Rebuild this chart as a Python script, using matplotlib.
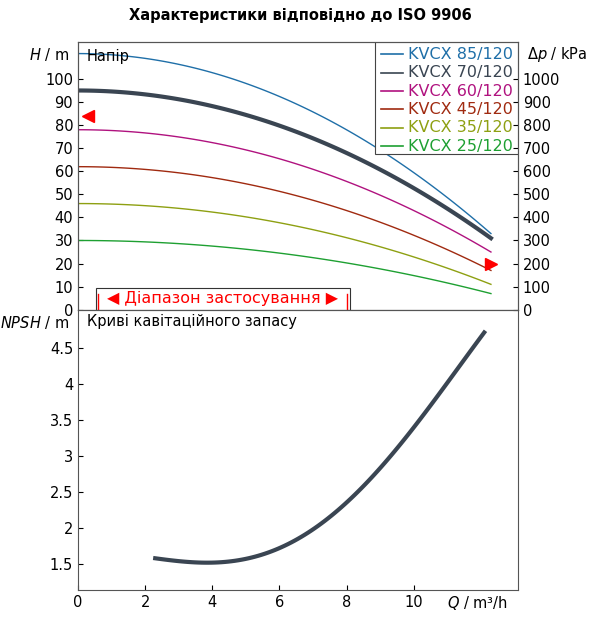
import matplotlib
matplotlib.use("Agg")
import matplotlib.pyplot as plt
import numpy as np

Q = [0, 2, 4, 6, 8, 10, 12.3]
series = {
    "KVCX 85/120": [111, 108.9, 102.7, 92.4, 78.0, 59.4, 33],
    "KVCX 70/120": [95, 93.3, 88.2, 79.8, 67.9, 52.7, 31],
    "KVCX 60/120": [78, 76.6, 72.4, 65.4, 55.6, 43.0, 25],
    "KVCX 45/120": [62, 60.8, 57.2, 51.3, 43.0, 32.3, 17],
    "KVCX 35/120": [46, 45.1, 42.3, 37.7, 31.2, 22.9, 11],
    "KVCX 25/120": [30, 29.4, 27.6, 24.5, 20.3, 14.8, 7],
}
colors = ["#1f6fa8", "#3a4552", "#b0127f", "#a02a10", "#8ea012", "#1ea032"]
widths = [1.0, 3.0, 1.0, 1.0, 1.0, 1.0]
npsh_q = [2.3, 3, 4, 5, 6, 7, 8, 9, 10, 11, 12.1]
npsh = [1.58, 1.54, 1.52, 1.58, 1.72, 1.97, 2.35, 2.85, 3.4, 4.0, 4.72]

fig = plt.figure(figsize=(6, 6.27), dpi=100)
ax = fig.add_axes([0.13, 0.506, 0.733, 0.427])
ax2 = fig.add_axes([0.13, 0.059, 0.733, 0.447])
fig.text(0.5, 0.968, "Характеристики відповідно до ISO 9906", ha="center", fontsize=10.5, fontweight="bold")

for (name, h), c, w in zip(series.items(), colors, widths):
    p = np.polyfit(Q, h, 2)
    qq = np.linspace(0, Q[-1], 100)
    ax.plot(qq, np.polyval(p, qq), color=c, lw=w)
ax.set_xlim(0, 13.1)
ax.set_ylim(0, 116)
ax.set_yticks(range(0, 101, 10))
ax.set_xticks([])
ax.tick_params(labelsize=10.5, direction="in")
axr = ax.twinx()
axr.set_ylim(0, 1160)
axr.set_yticks(range(0, 1001, 100))
axr.tick_params(labelsize=10.5, direction="in")
ax.text(-0.02, 0.955, "$H$ / m", transform=ax.transAxes, ha="right", va="center", fontsize=10.5)
axr.text(1.02, 0.955, "$\\Delta p$ / kPa", transform=ax.transAxes, ha="left", va="center", fontsize=10.5)
ax.text(0.02, 0.975, "Напір", transform=ax.transAxes, va="top", fontsize=10.5)

# legend
x0, x1 = 0.675, 1.0
ax.add_patch(plt.Rectangle((x0, 0.58), x1 - x0, 0.42, transform=ax.transAxes, fc="white", ec="#444", lw=0.8, zorder=5))
for i, (name, c) in enumerate(zip(series, colors)):
    y = 0.955 - i * 0.069
    ax.plot([0.69, 0.74], [y, y], transform=ax.transAxes, color=c, lw=1.2, zorder=6)
    ax.text(0.75, y, name, transform=ax.transAxes, color=c, va="center", fontsize=11.5, zorder=6)

# markers and range
ax.plot([0.3], [84], marker="<", color="red", ms=8, clip_on=False)
ax.plot([12.3], [20], marker=">", color="red", ms=8, clip_on=False)
ax.add_patch(plt.Rectangle((0.55, 0), 7.55, 9.5, fc="white", ec="#333", lw=0.8, zorder=3))
ax.plot([0.6, 0.6], [0, 7], color="red", lw=1, zorder=4)
ax.plot([8.0, 8.0], [0, 7], color="red", lw=1, zorder=4)
ax.text(4.3, 4.8, "◀ Діапазон застосування ▶", color="red", ha="center", va="center", fontsize=11.5, zorder=4)

p2 = np.polyfit(npsh_q, npsh, 4)
qq2 = np.linspace(npsh_q[0], npsh_q[-1], 100)
ax2.plot(qq2, np.polyval(p2, qq2), color="#3a4552", lw=3)
ax2.set_xlim(0, 13.1)
ax2.set_ylim(1.14, 5.03)
ax2.set_yticks([1.5, 2, 2.5, 3, 3.5, 4, 4.5])
ax2.set_yticklabels(["1.5", "2", "2.5", "3", "3.5", "4", "4.5"])
ax2.set_xticks([0, 2, 4, 6, 8, 10])
ax2.tick_params(labelsize=10.5, direction="in")
ax2.text(-0.02, 0.955, "$NPSH$ / m", transform=ax2.transAxes, ha="right", va="center", fontsize=10.5)
ax2.text(0.02, 0.985, "Криві кавітаційного запасу", transform=ax2.transAxes, va="top", fontsize=10.5)
ax2.text(11.9, 1.14 - 0.18, "$Q$ / m³/h", ha="center", va="center", fontsize=10.5)
for a in (ax, ax2, axr):
    for s in a.spines.values():
        s.set_color("#555")
fig.savefig("out.png")
